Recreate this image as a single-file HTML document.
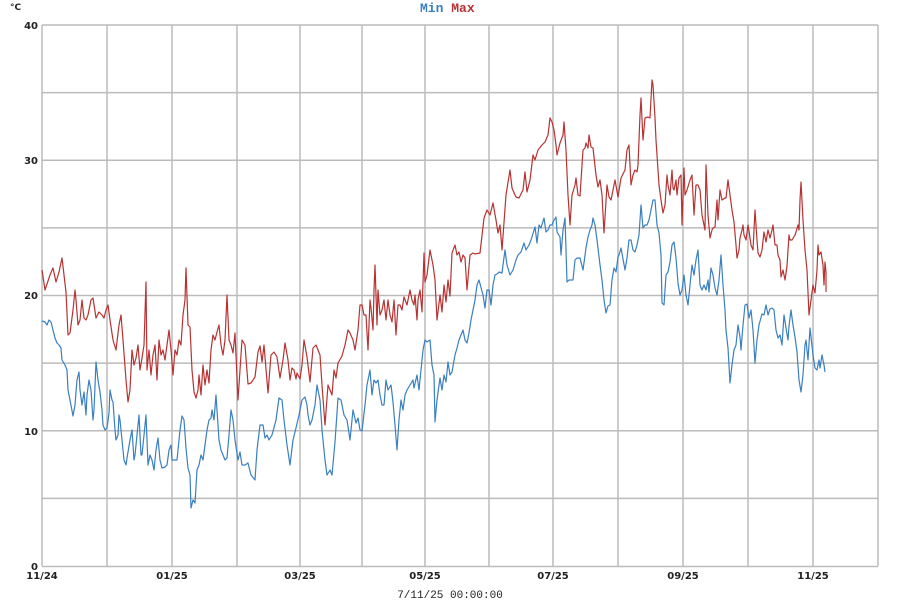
<!DOCTYPE html>
<html><head><meta charset="utf-8"><style>
html,body{margin:0;padding:0;background:#fff;}
svg{display:block;}
.t{font-family:"DejaVu Sans","Liberation Sans",sans-serif;font-size:10px;font-weight:bold;fill:#222;}
</style></head><body>
<svg width="900" height="600" viewBox="0 0 900 600" xmlns="http://www.w3.org/2000/svg">
<rect width="900" height="600" fill="#fff"/>
<g stroke="#bbb" stroke-width="1.5" fill="none">
<line x1="42" y1="25" x2="878" y2="25"/>
<line x1="42" y1="92.6" x2="878" y2="92.6"/>
<line x1="42" y1="160.3" x2="878" y2="160.3"/>
<line x1="42" y1="227.9" x2="878" y2="227.9"/>
<line x1="42" y1="295.5" x2="878" y2="295.5"/>
<line x1="42" y1="363.1" x2="878" y2="363.1"/>
<line x1="42" y1="430.8" x2="878" y2="430.8"/>
<line x1="42" y1="498.4" x2="878" y2="498.4"/>
<line x1="42" y1="566.5" x2="878" y2="566.5"/>
<line x1="42" y1="25" x2="42" y2="566"/>
<line x1="107" y1="25" x2="107" y2="566"/>
<line x1="172" y1="25" x2="172" y2="566"/>
<line x1="237" y1="25" x2="237" y2="566"/>
<line x1="300" y1="25" x2="300" y2="566"/>
<line x1="362" y1="25" x2="362" y2="566"/>
<line x1="425" y1="25" x2="425" y2="566"/>
<line x1="489" y1="25" x2="489" y2="566"/>
<line x1="553" y1="25" x2="553" y2="566"/>
<line x1="618" y1="25" x2="618" y2="566"/>
<line x1="683" y1="25" x2="683" y2="566"/>
<line x1="748" y1="25" x2="748" y2="566"/>
<line x1="813" y1="25" x2="813" y2="566"/>
<line x1="878" y1="25" x2="878" y2="566"/>
</g>
<text class="t" x="38" y="29" text-anchor="end">40</text>
<text class="t" x="38" y="164" text-anchor="end">30</text>
<text class="t" x="38" y="299" text-anchor="end">20</text>
<text class="t" x="38" y="435" text-anchor="end">10</text>
<text class="t" x="38" y="570" text-anchor="end">0</text>
<text class="t" x="10" y="10" style="font-size:9px">°C</text>
<g class="t" text-anchor="middle">
<text x="42" y="579">11/24</text>
<text x="172" y="579">01/25</text>
<text x="300" y="579">03/25</text>
<text x="425" y="579">05/25</text>
<text x="553" y="579">07/25</text>
<text x="683" y="579">09/25</text>
<text x="813" y="579">11/25</text>
<text x="450" y="598" style="font-weight:normal;font-family:'Liberation Mono',monospace;font-size:11px">7/11/25 00:00:00</text>
</g>
<text x="420" y="12" font-family="Liberation Mono, monospace" font-size="13" font-weight="bold"><tspan fill="#3a7fc0">Min</tspan> <tspan fill="#b83232">Max</tspan></text>
<polyline fill="none" stroke="#b83232" stroke-width="1.2" stroke-linejoin="round" points="42,270 45,290 50,275 53,268 56,282 59,272 62,258 64,275 66,292 68,335 70,333 73,310 75,290 76,300 78,325 80,320 82,300 84,318 86,320 88,315 91,300 93,298 96,318 99,312 102,315 104,318 106,310 108,305 110,320 113,340 116,350 119,325 121,315 123,340 126,380 128,402 130,390 132,350 134,365 136,358 138,345 140,370 142,358 144,345 146,282 147,370 149,350 151,375 153,355 155,345 157,380 159,340 161,355 163,350 165,360 167,345 169,330 171,350 173,375 175,350 177,355 179,340 181,345 183,315 185,300 186,268 188,325 190,327 192,370 194,392 196,398 198,390 199,375 201,395 203,365 205,385 207,370 209,383 211,350 213,335 215,340 217,332 219,325 221,345 223,355 225,340 227,295 229,340 231,345 233,353 235,333 238,400 242,340 245,345 248,384 251,383 255,377 258,352 260,346 262,362 264,345 268,393 271,355 274,352 277,357 280,378 283,360 285,343 288,360 290,380 292,368 294,370 296,379 297,373 300,379 302,365 304,340 307,357 310,382 313,348 316,345 320,355 322,385 325,425 328,385 332,395 334,370 336,378 338,363 342,356 345,345 348,330 350,333 353,340 355,350 358,330 360,305 362,305 364,315 366,315 368,350 370,300 371,308 373,330 374,290 375,265 377,325 378,290 380,315 382,310 384,300 386,320 388,300 390,315 392,322 394,300 396,335 398,305 400,305 402,310 404,297 407,305 410,290 412,300 414,305 415,295 417,320 418,300 420,290 422,312 424,253 425,282 427,275 430,250 433,265 435,280 437,320 440,295 442,312 444,285 446,302 448,280 450,296 452,253 455,245 457,255 459,252 461,262 463,255 465,258 467,290 470,255 473,253 475,254 480,253 484,218 487,210 490,215 493,203 496,220 498,233 500,225 502,250 506,195 510,170 512,188 515,195 516,197 519,198 523,190 525,172 527,192 530,180 533,155 535,160 538,150 542,145 545,142 548,135 550,118 552,122 554,130 556,145 557,155 560,143 563,135 564,122 566,150 568,195 570,225 572,195 575,185 576,178 578,195 580,196 583,150 585,148 586,143 588,148 589,135 591,147 593,148 596,175 598,187 600,180 602,195 604,233 607,185 609,197 611,200 613,190 615,180 618,197 621,178 625,170 627,150 629,145 631,185 633,175 635,170 637,172 638,165 640,115 641,98 643,140 645,118 648,117 650,118 652,80 653,85 655,118 656,140 659,185 661,200 663,213 665,205 667,175 668,185 670,195 672,170 673,188 674,190 676,180 677,195 679,178 681,175 682,225 684,168 685,195 687,190 690,180 692,175 694,215 696,185 698,185 700,190 702,215 705,230 706,165 708,215 710,238 712,230 713,228 715,227 717,200 718,220 720,190 722,200 725,198 726,198 728,180 732,210 734,222 736,245 737,258 739,250 740,238 742,230 743,225 744,235 746,240 748,225 749,231 751,245 753,250 755,210 757,240 758,253 760,257 762,250 764,232 766,242 768,230 770,238 772,230 773,225 775,245 777,245 778,255 780,260 781,277 783,270 785,280 787,266 789,235 790,240 792,240 795,235 796,232 798,225 799,230 800,200 801,182 803,220 805,250 807,270 809,315 811,300 813,285 815,293 817,270 818,245 819,255 821,252 823,265 824,285 825,262 826,272 826,292"/>
<polyline fill="none" stroke="#3a7fc0" stroke-width="1.2" stroke-linejoin="round" points="42,321 45,322 47,325 49,320 51,322 53,330 55,338 57,343 59,345 61,348 62,360 65,365 67,370 68,390 70,400 73,416 75,405 77,380 79,372 80,390 82,405 84,392 86,415 87,395 89,380 91,390 93,420 94,410 96,362 98,380 100,392 102,410 103,425 105,430 107,428 109,413 110,390 112,400 113,402 115,430 116,440 118,435 119,415 120,420 122,440 124,460 126,465 127,458 128,452 130,440 132,430 134,460 135,455 137,435 139,415 141,455 142,455 146,415 148,465 150,455 152,460 154,470 156,450 158,438 160,460 162,468 165,467 167,465 169,450 171,445 172,460 174,460 177,460 180,430 182,416 184,420 186,448 188,468 190,475 191,508 193,500 195,503 197,470 199,465 201,455 203,460 205,445 207,430 209,420 211,418 212,410 214,420 216,395 219,440 221,450 223,455 225,460 227,458 229,435 231,410 233,420 235,440 238,460 240,452 242,465 245,465 248,463 251,475 255,480 257,450 260,425 263,425 265,438 267,435 269,440 272,435 276,420 279,398 282,400 284,420 287,445 290,465 293,440 296,428 299,415 302,400 305,397 307,405 308,415 310,425 312,420 315,405 317,385 320,400 322,430 325,460 327,475 330,470 332,475 335,442 338,398 341,400 344,415 347,420 350,440 351,430 353,410 356,423 358,418 360,430 362,431 365,405 367,385 370,370 372,395 374,380 376,383 378,380 380,395 382,405 384,405 386,380 388,390 391,385 393,402 395,425 397,450 399,420 401,400 403,410 405,395 407,390 410,385 413,380 414,388 417,375 419,390 421,370 423,350 425,340 427,342 430,340 432,365 434,375 435,422 437,400 440,378 442,390 444,375 446,382 448,362 450,375 452,372 455,355 457,348 459,340 461,335 463,330 465,340 467,343 469,333 471,320 473,310 475,300 477,285 479,280 483,295 485,308 487,290 489,290 491,305 493,285 495,275 497,274 499,272 502,273 503,265 505,250 507,265 510,275 513,270 516,260 518,255 521,252 524,243 526,250 529,245 531,240 535,227 537,243 539,225 541,228 544,218 546,232 548,230 550,225 552,225 553,222 556,217 557,232 560,237 561,255 563,230 565,218 567,282 569,280 571,280 573,280 575,260 577,258 580,258 581,262 583,270 586,248 588,237 590,230 592,225 593,218 595,225 597,240 600,265 602,280 604,300 606,313 608,306 610,305 612,280 614,268 616,272 618,257 619,255 621,248 625,270 627,258 629,240 631,240 633,250 635,252 637,245 639,235 641,205 643,228 645,225 647,225 649,220 651,210 653,200 655,200 657,225 659,233 661,255 662,303 664,305 666,275 668,272 670,262 672,245 674,242 676,258 678,283 680,295 682,290 684,275 686,295 688,305 690,285 692,265 694,275 696,260 698,250 700,285 702,290 704,285 706,290 708,280 709,292 711,268 713,275 715,288 717,295 719,280 721,255 723,285 725,310 726,330 728,348 730,383 732,365 734,350 736,345 738,325 740,337 741,350 743,325 745,305 747,304 749,318 751,310 753,330 755,363 757,340 759,325 762,314 764,315 766,305 768,315 770,309 772,308 774,310 776,330 778,338 780,335 782,345 784,315 786,328 788,340 789,326 791,310 793,325 795,337 797,352 799,380 801,392 803,375 805,345 806,340 808,360 810,328 813,355 815,368 817,370 819,360 820,368 822,355 824,365 825,372"/>
</svg>
</body></html>
